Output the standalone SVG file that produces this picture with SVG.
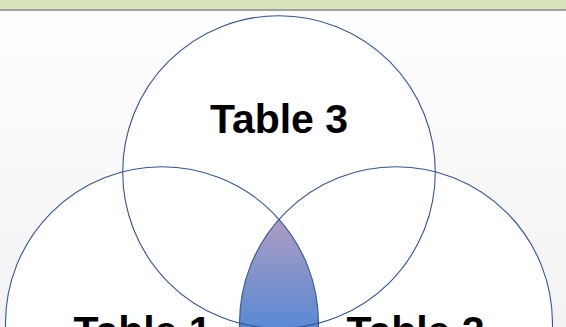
<svg xmlns="http://www.w3.org/2000/svg" width="566" height="327" viewBox="0 0 566 327">
  <defs>
    <linearGradient id="bg" x1="0" y1="0" x2="0" y2="1">
      <stop offset="0" stop-color="#ffffff"/>
      <stop offset="1" stop-color="#f2f2f2"/>
    </linearGradient>
    <linearGradient id="lensGrad" gradientUnits="userSpaceOnUse" x1="0" y1="222" x2="0" y2="327">
      <stop offset="0" stop-color="#ab9bc3"/>
      <stop offset="1" stop-color="#5a8ad3"/>
    </linearGradient>
    <style>
      .ring { fill: none; stroke: #2f5597; stroke-width: 1.1; }
      .fill { fill: #ffffff; stroke: none; }
      .label { font-family: "Liberation Sans", Arial, sans-serif; font-weight: bold; font-size: 41px; fill: #000000; text-anchor: middle; }
    </style>
  </defs>
  <rect x="0" y="0" width="566" height="327" fill="url(#bg)"/>
  <rect x="0" y="0" width="566" height="9.2" fill="#d7e4bd"/>
  <rect x="0" y="9.2" width="566" height="1.6" fill="#8c8c8c"/>
  <g id="fills">
    <circle class="fill" cx="279" cy="172" r="156.3"/>
    <circle class="fill" cx="162" cy="323.2" r="156.5"/>
    <circle class="fill" cx="396" cy="323.2" r="156.5"/>
  </g>
  <g id="overlap">
    <path d="M 279 219.3 A 156.5 156.5 0 0 1 279 427.1 A 156.5 156.5 0 0 1 279 219.3 Z" fill="url(#lensGrad)"/>
  </g>
  <g id="table3">
    <circle class="ring" cx="279" cy="172" r="156.3"/>
    <text class="label" x="279" y="133">Table 3</text>
  </g>
  <g id="table1">
    <circle class="ring" cx="162" cy="323.2" r="156.5"/>
    <text class="label" x="142.5" y="344.5">Table 1</text>
  </g>
  <g id="table2">
    <circle class="ring" cx="396" cy="323.2" r="156.5"/>
    <text class="label" x="415.5" y="344.5">Table 2</text>
  </g>
  <g id="connectors"></g>
</svg>
